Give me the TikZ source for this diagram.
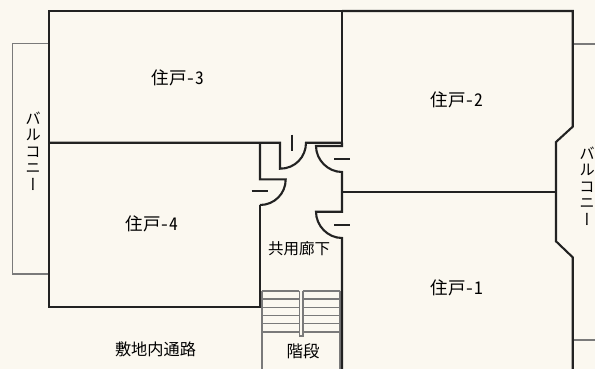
\documentclass[tikz,border=0pt]{standalone}
\usepackage{fontspec}
\setmainfont[RawFeature={+hwid}]{Noto Sans CJK JP}
\newfontfamily\vertfont[RawFeature={+vert}]{Noto Sans CJK JP}
\definecolor{paper}{HTML}{FBF8F0}
\definecolor{wallc}{HTML}{222222}
\definecolor{thinc}{HTML}{7A7A7A}
\tikzset{
  wall/.style={draw=wallc,line width=2.1pt,line join=miter},
  thinwall/.style={draw=thinc,line width=1.5pt},
  stair/.style={draw=thinc,line width=1.6pt},
  room/.style={font=\fontsize{17.5}{17.5}\selectfont,text=black,inner sep=0pt},
  smalllab/.style={font=\fontsize{15.5}{15.5}\selectfont,text=black,inner sep=0pt},
  vlab/.style={font=\fontsize{15.5}{16.6}\selectfont\vertfont,text=black,inner sep=0pt,align=center}
}
\begin{document}
\begin{tikzpicture}[x=1pt,y=-1pt]
\path[fill=paper] (0,0) rectangle (595,369);
\useasboundingbox (0,0) rectangle (595,369);
% balconies
\draw[thinwall] (49,43.7) -- (12.7,43.7) -- (12.7,274) -- (49,274);
\draw[thinwall] (595,44) -- (572.7,44);
\draw[thinwall] (595,340) -- (572.7,340);
% stairs
\foreach \yy in {290.7,298.7,307.3,315.3,323.3,331.7}{
  \draw[stair] (261.7,\yy) -- (299.3,\yy);
  \draw[stair] (302.7,\yy) -- (340,\yy);
}
\draw[stair] (261.7,290.7) -- (261.7,369);
\draw[stair] (340,290.7) -- (340,369);
\draw[stair] (299.3,290.7) -- (299.3,336) -- (302.7,336) -- (302.7,290.7);
% walls
\draw[wall] (342,142.7) -- (342,11) -- (49,11) -- (49,306.7) -- (260,306.7) -- (260,205);
\draw[wall] (49,142.7) -- (280,142.7) -- (280,168.7) .. controls (295,168.7) and (306,157) .. (306,142.7) -- (342,142.7);
\draw[wall] (260,142.7) -- (260,179.3) -- (285.7,179.3) .. controls (285.7,194) and (274,205) .. (260,205);
\draw[wall] (342,11) -- (572.7,11) -- (572.7,126.7) -- (556,142) -- (556,241.3) -- (572.7,257.3) -- (572.7,369);
\draw[wall] (342,142.7) -- (342,146) -- (316,146) .. controls (316,160) and (328,172) .. (342,172) -- (342,211.7) -- (316,211.7) .. controls (316,226) and (328,238) .. (342,238) -- (342,369);
\draw[wall] (342,191.7) -- (556,191.7);
% door handles
\draw[wall] (292.3,134.7) -- (292.3,150.7);
\draw[wall] (334,158.7) -- (350,158.7);
\draw[wall] (334,224.7) -- (350,224.7);
\draw[wall] (251.7,191.3) -- (267.7,191.3);
% labels
\node[room] (r3) at (178,78) {住戸-3};
\node[room] (r2) at (457,100) {住戸-2};
\node[room] (r4) at (152,224) {住戸-4};
\node[room] (r1) at (457,288) {住戸-1};
\node[room,font=\fontsize{16.2}{16.2}\selectfont] (path) at (155.5,349) {敷地内通路};
\node[smalllab] (hall) at (299,249) {共用廊下};
\node[room,font=\fontsize{16.5}{16.5}\selectfont] (st) at (303,351) {階段};
\node[vlab] (bl) at (33,151) {バ\\ル\\コ\\ニ\\ー};
\node[vlab] (br) at (587,186) {バ\\ル\\コ\\ニ\\ー};
\end{tikzpicture}
\end{document}
